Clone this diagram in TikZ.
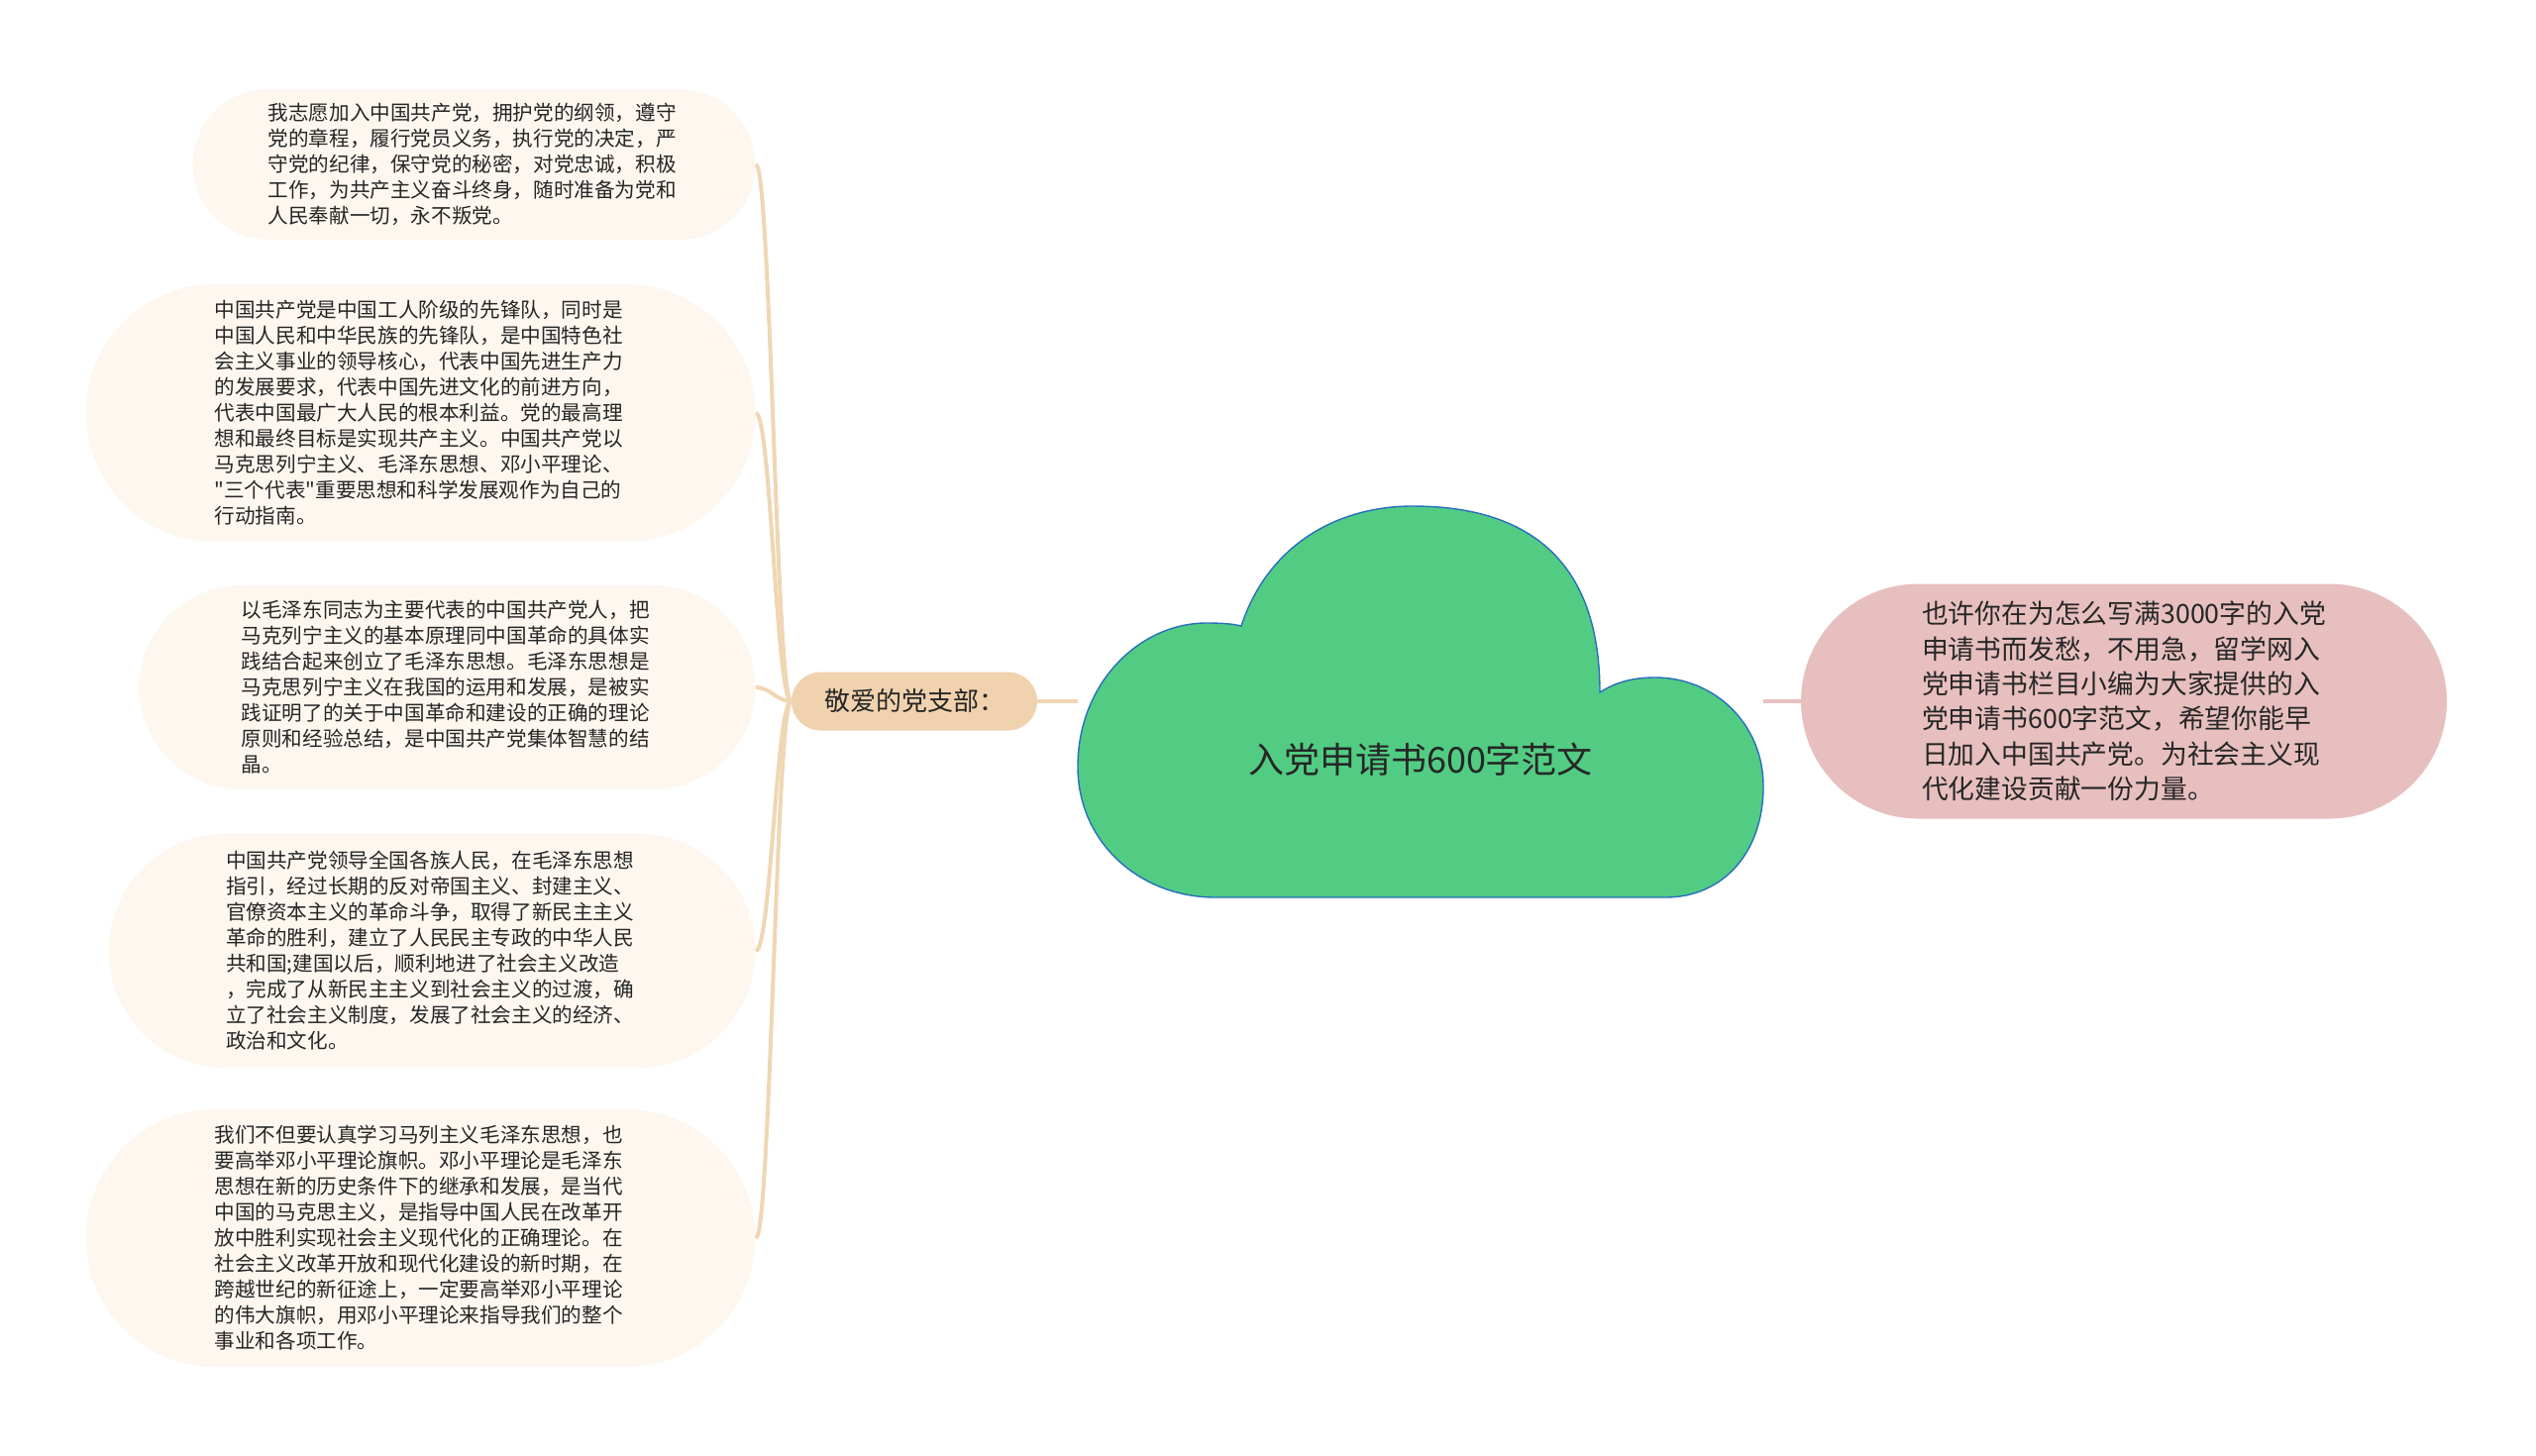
\documentclass[tikz,border=0pt]{standalone}
\usepackage{fontspec}
\setmainfont{Noto Sans CJK SC}
\newfontfamily\cnfont{Noto Sans CJK SC}
\usetikzlibrary{positioning}
\definecolor{LeafCream}{RGB}{253, 247, 240}
\definecolor{BranchPeach}{RGB}{240, 210, 174}
\definecolor{TwigPeach}{RGB}{240, 214, 180}
\definecolor{IntroPink}{RGB}{231, 191, 191}
\definecolor{CloudGreen}{RGB}{82, 204, 131}
\definecolor{CloudBlue}{RGB}{40, 110, 190}
\tikzset{
  leafbox/.style={rectangle, rounded corners=#1/2, minimum height=#1,
                  inner xsep=#1/2, inner ysep=0pt, fill=LeafCream,
                  text width=208pt, align=left, text=black!85,
                  font=\cnfont\fontsize{10.3pt}{13pt}\selectfont},
  branchbox/.style={rectangle, rounded corners=14.75pt, minimum height=29.5pt,
                    inner xsep=16.5pt, fill=BranchPeach, text=black!85,
                    font=\cnfont\fontsize{13pt}{16pt}\selectfont},
  introbox/.style={rectangle, rounded corners=59.25pt, minimum height=118.5pt,
                   inner xsep=61pt, inner ysep=0pt, fill=IntroPink, align=left,
                   text=black!85, font=\cnfont\fontsize{13.4pt}{17.65pt}\selectfont},
  rootbox/.style={minimum width=346pt, text=black!85,
                  font=\cnfont\fontsize{18pt}{22pt}\selectfont},
  cloudshape/.style={fill=CloudGreen, draw=CloudBlue, line width=0.7pt},
  twig/.style={line width=2pt, color=#1},
}
\begin{document}
\begin{tikzpicture}[x=0.5pt, y=-0.5pt]
  \useasboundingbox (0,0) rectangle (2560,1469);

  \path[cloudshape] (1227,906) .. controls (1150,906) and (1088,850) .. (1088,774)
    .. controls (1088,690) and (1150,629) .. (1218,629)
    .. controls (1235,629) and (1245,630) .. (1253,632)
    .. controls (1280,550) and (1350,511) .. (1426,511)
    .. controls (1575,511) and (1615,600) .. (1615,699)
    .. controls (1632,688) and (1650,684) .. (1671,684)
    .. controls (1730,684) and (1780,730) .. (1780,794)
    .. controls (1780,860) and (1740,906) .. (1681,906)
    -- cycle;
  \node[rootbox] (root) at (1434,767) {入党申请书600字范文};

  \node[branchbox] (br) at (923,708) {敬爱的党支部：};
  \node[introbox] (intro) at (2144,708)
       {也许你在为怎么写满3000字的入党\\
        申请书而发愁，不用急，留学网入\\
        党申请书栏目小编为大家提供的入\\
        党申请书600字范文，希望你能早\\
        日加入中国共产党。为社会主义现\\
        代化建设贡献一份力量。};

  \node[leafbox=76pt, anchor=east] (l1) at (763,166)
       {我志愿加入中国共产党，拥护党的纲领，遵守\\
        党的章程，履行党员义务，执行党的决定，严\\
        守党的纪律，保守党的秘密，对党忠诚，积极\\
        工作，为共产主义奋斗终身，随时准备为党和\\
        人民奉献一切，永不叛党。};
  \node[leafbox=130pt, anchor=east] (l2) at (763,417)
       {中国共产党是中国工人阶级的先锋队，同时是\\
        中国人民和中华民族的先锋队，是中国特色社\\
        会主义事业的领导核心，代表中国先进生产力\\
        的发展要求，代表中国先进文化的前进方向，\\
        代表中国最广大人民的根本利益。党的最高理\\
        想和最终目标是实现共产主义。中国共产党以\\
        马克思列宁主义、毛泽东思想、邓小平理论、\\
        "三个代表"重要思想和科学发展观作为自己的\\
        行动指南。};
  \node[leafbox=103pt, anchor=east] (l3) at (763,694)
       {以毛泽东同志为主要代表的中国共产党人，把\\
        马克列宁主义的基本原理同中国革命的具体实\\
        践结合起来创立了毛泽东思想。毛泽东思想是\\
        马克思列宁主义在我国的运用和发展，是被实\\
        践证明了的关于中国革命和建设的正确的理论\\
        原则和经验总结，是中国共产党集体智慧的结\\
        晶。};
  \node[leafbox=118.5pt, anchor=east] (l4) at (763,960)
       {中国共产党领导全国各族人民，在毛泽东思想\\
        指引，经过长期的反对帝国主义、封建主义、\\
        官僚资本主义的革命斗争，取得了新民主主义\\
        革命的胜利，建立了人民民主专政的中华人民\\
        共和国;建国以后，顺利地进了社会主义改造\\
        ，完成了从新民主主义到社会主义的过渡，确\\
        立了社会主义制度，发展了社会主义的经济、\\
        政治和文化。};
  \node[leafbox=130pt, anchor=east] (l5) at (763,1250)
       {我们不但要认真学习马列主义毛泽东思想，也\\
        要高举邓小平理论旗帜。邓小平理论是毛泽东\\
        思想在新的历史条件下的继承和发展，是当代\\
        中国的马克思主义，是指导中国人民在改革开\\
        放中胜利实现社会主义现代化的正确理论。在\\
        社会主义改革开放和现代化建设的新时期，在\\
        跨越世纪的新征途上，一定要高举邓小平理论\\
        的伟大旗帜，用邓小平理论来指导我们的整个\\
        事业和各项工作。};

  \draw[twig=TwigPeach] (br.east) -- (br.east -| root.west);
  \draw[twig=IntroPink] (intro.west) -- (intro.west -| root.east);
  \foreach \n in {l1,l2,l3,l4,l5}
    \draw[twig=TwigPeach] (\n.east) .. controls +(15,0) and +(-15,0) .. (br.west);
\end{tikzpicture}
\end{document}
